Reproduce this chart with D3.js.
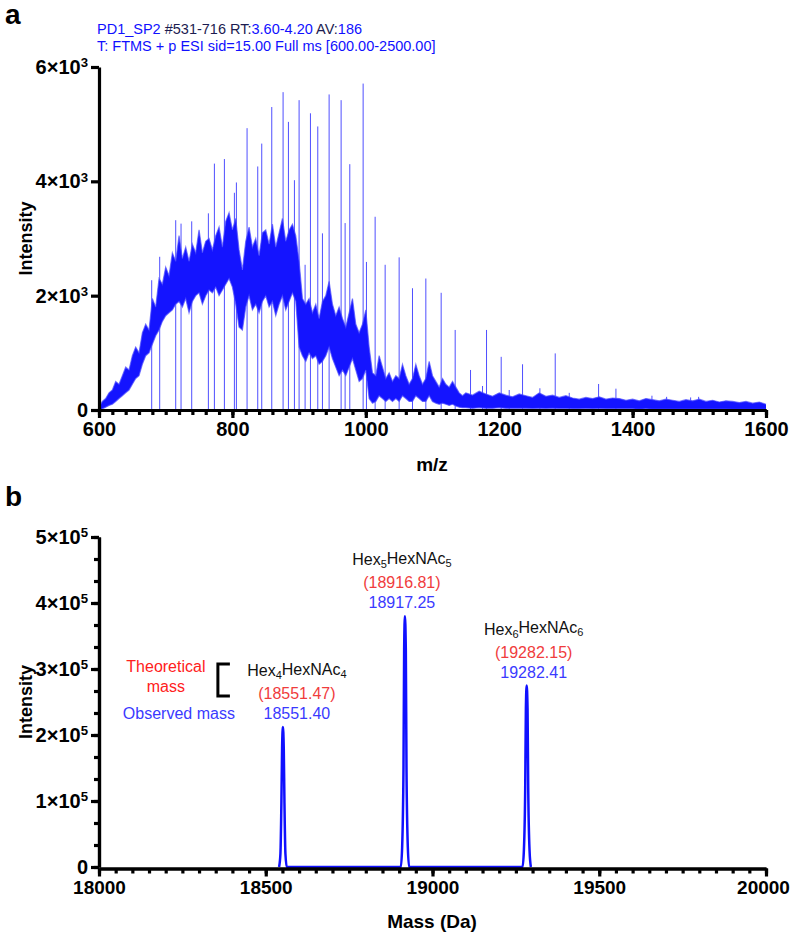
<!DOCTYPE html>
<html>
<head>
<meta charset="utf-8">
<script src="https://cdn.jsdelivr.net/npm/d3@7"></script>
<style>
  body { margin: 0; background: #fff; }
  svg { font-family: "Liberation Sans", Arial, Helvetica, sans-serif; }
</style>
</head>
<body>
<script>
// Panel a : raw ESI spectrum. The noisy hump is kept as a sampled envelope
// (upper / lower edge of the dense trace), the sharp lines as a list of spikes.

const envMz = [
  600,605,610,615,620,625,630,635,640,645,650,655,660,665,670,675,680,685,690,695,
  700,705,710,715,720,725,730,735,740,745,750,755,760,765,770,775,780,785,790,795,
  800,805,810,815,820,825,830,835,840,845,850,855,860,865,870,875,880,885,890,895,
  900,905,910,915,920,925,930,935,940,945,950,955,960,965,970,975,980,985,990,995,
  1000,1005,1010,1015,1020,1025,1030,1035,1040,1045,1050,1055,1060,1065,1070,1075,1080,1085,1090,1095,
  1100,1105,1110,1115,1120,1125,1130,1135,1140,1145,1150,
  1160,1170,1180,1190,1200,1210,1220,1230,1240,1250,1260,1270,1280,1290,1300,
  1310,1320,1330,1340,1350,1360,1370,1380,1390,1400,1410,1420,1430,1440,1450,
  1460,1470,1480,1490,1500,1510,1520,1530,1540,1550,1560,1570,1580,1590,1600
];
const envHi = [
  50,150,200,300,350,500,450,600,750,700,950,1100,1000,1350,1500,1400,1950,1800,2300,2200,
  2500,2350,2750,2600,3050,2650,2850,2600,2900,2750,3150,2750,2950,3000,2800,3050,3200,2850,3300,3450,
  3150,3350,2800,2450,2950,3200,2850,3000,2700,3100,3150,2900,3250,2850,3100,3350,2950,3150,3250,3050,
  2600,1950,1850,1950,1700,1850,1600,1900,2000,2250,1850,1650,1800,1600,1450,1700,1950,1500,1350,1500,
  1750,1100,650,600,950,750,550,650,500,600,550,800,600,450,550,800,600,450,550,850,
  600,500,400,550,450,400,500,400,300,250,300,
  260,330,280,240,300,260,230,280,250,220,300,240,260,220,250,
  210,190,220,200,230,190,210,200,170,190,160,200,180,160,190,
  170,150,180,160,190,150,170,140,160,150,130,150,120,140,100
];
const envLo = [
  0,20,50,80,100,150,200,250,300,350,450,550,600,800,950,1000,1150,1300,1400,1550,
  1650,1700,1750,1850,1900,1800,1950,1700,1900,2000,2050,1850,2000,2100,2050,2150,2000,2100,2200,2300,
  2150,1850,1450,1400,1800,2000,1750,1850,1700,1900,2000,1800,1900,1650,1850,2000,1750,1900,2050,1900,
  1100,950,850,1000,900,950,800,850,950,1100,900,750,600,700,600,750,900,700,500,550,
  700,200,120,150,250,200,150,200,150,200,150,250,200,150,150,250,200,150,150,250,
  150,120,100,120,100,80,100,70,50,40,40,
  30,40,30,30,40,30,30,30,30,25,30,25,30,25,25,
  20,20,25,20,25,20,20,20,20,20,15,20,15,15,15,
  15,15,15,15,15,15,15,15,15,10,10,10,10,10,10
];

const spikeMz = [
  679,691,715,723,739,764,773,788,803,806,822,838,844,859,876,884,893,900,909,917,
  928,935,945,963,969,976,996,1001,1014,1029,1050,1070,1090,1113,1134,1157,1175,1181,1203,1215,
  1235,1261,1284,1305,1349,1375,1429,1451,1487,1499
];
const spikeInt = [
  2270,2680,3320,3260,3300,3440,4310,4390,3800,3980,4930,4260,4660,5300,5560,5040,4020,5420,2540,5190,
  4960,3090,5520,5420,3270,4300,5710,2590,3380,2540,2670,2130,2300,2050,1400,700,420,1400,930,350,
  800,380,990,300,455,373,250,230,220,230
];

const mzTicks = [600, 800, 1000, 1200, 1400, 1600];
const intTicksA = [0, 2000, 4000, 6000];

// Panel b : deconvoluted spectrum
const massDa = [
  18540,18544,18547,18549,18551.4,18554,18556,18559,18563,
  18905,18909,18913,18915,18917.25,18920,18922,18926,18930,
  19270,19274,19278,19280,19282.41,19285,19287,19291,19295
];
const massInt = [
  0,20000,100000,180000,212000,180000,100000,20000,0,
  0,30000,150000,330000,380000,330000,150000,30000,0,
  0,25000,120000,240000,275000,240000,120000,25000,0
];
const glycoforms = [
  { hex: 4, hexnac: 4, theo: "18551.47", obs: "18551.40", mass: 18551.40, top: 212000 },
  { hex: 5, hexnac: 5, theo: "18916.81", obs: "18917.25", mass: 18917.25, top: 380000 },
  { hex: 6, hexnac: 6, theo: "19282.15", obs: "19282.41", mass: 19282.41, top: 275000 }
];
const massTicks = [18000, 18500, 19000, 19500, 20000];
const intTicksB = [0, 100000, 200000, 300000, 400000, 500000];

const width = 790;
const height = 938;
const blue = "#1010ff";

const svg = d3.select("body")
    .append("svg")
    .attr("width", width)
    .attr("height", height);

////////////////////////////////////////////////////////////////////////////////
// helpers

// "6×10³" style labels
function sciLabel(sel, expo) {
  sel.each(function (d) {
    let t = d3.select(this).text("");
    if (d === 0) { t.text("0"); return; }
    t.append("tspan").text(Math.round(d / Math.pow(10, expo)) + "×10");
    t.append("tspan").attr("dy", "-0.5em").attr("font-size", "0.66em").text(expo);
  });
}

function thick(g, size) {
  g.attr("font-family", null);
  g.selectAll("path, line").attr("stroke-width", 3.2);
  g.selectAll("text").attr("font-size", size).attr("font-weight", "bold");
}

function yTitle(cy) {
  svg.append("text")
    .attr("transform", "translate(32," + cy + ") rotate(-90)")
    .attr("text-anchor", "middle")
    .attr("font-size", "18px")
    .attr("font-weight", "bold")
    .text("Intensity");
}

const xA = d3.scaleLinear().domain([600, 1600]).range([99, 766]);
const yA = d3.scaleLinear().domain([0, 6000]).range([410, 67]);
const xB = d3.scaleLinear().domain([18000, 20000]).range([99, 766]);
const yB = d3.scaleLinear().domain([0, 500000]).range([867, 537]);

////////////////////////////////////////////////////////////////////////////////
// Panel a : texts and data

svg.append("text").attr("x", 5).attr("y", 24)
   .attr("font-size", "28px").attr("font-weight", "bold").text("a");

let head = svg.append("text").attr("x", 97).attr("y", 34).attr("font-size", "14.5px");
[["PD1_SP2", blue], [" #531-716", "#1c1c50"], [" RT:", "#1c1c50"], ["3.60-4.20", blue],
 [" AV:", "#1c1c50"], ["186", blue]].forEach(function (p) {
  head.append("tspan").attr("fill", p[1]).text(p[0]);
});
svg.append("text").attr("x", 97).attr("y", 51).attr("font-size", "14.5px")
   .attr("fill", blue).text("T: FTMS + p ESI sid=15.00 Full ms [600.00-2500.00]");

let plotA = svg.append("g");
let envData = envMz.map(function (m, i) { return { mz: m, hi: envHi[i], lo: envLo[i] }; });

plotA.selectAll(".spike")
    .data(spikeMz)
    .enter()
    .append("line")
    .attr("class", "spike")
    .attr("x1", d => xA(d)).attr("x2", d => xA(d))
    .attr("y1", yA(0))
    .attr("y2", (d, i) => yA(spikeInt[i]))
    .attr("stroke", "#3030ff")
    .attr("stroke-width", 1)
    .attr("stroke-opacity", 0.85);

plotA.append("path")
    .datum(envData)
    .attr("fill", "#1414ff")
    .attr("d", d3.area().x(d => xA(d.mz)).y0(d => yA(d.lo)).y1(d => yA(d.hi)));

// soft edges of the dense trace
["hi", "lo"].forEach(function (k) {
  plotA.append("path")
      .datum(envData)
      .attr("fill", "none")
      .attr("stroke", "#4b4bff")
      .attr("stroke-width", 1.2)
      .attr("stroke-opacity", 0.7)
      .attr("d", d3.line().x(d => xA(d.mz)).y(d => yA(d[k])));
});

svg.append("text").attr("x", 432).attr("y", 471)
   .attr("text-anchor", "middle").attr("font-size", "19px").attr("font-weight", "bold").text("m/z");
yTitle((yA(0) + yA(6000)) / 2);

////////////////////////////////////////////////////////////////////////////////
// Panel b : texts and data

svg.append("text").attr("x", 5).attr("y", 506)
   .attr("font-size", "28px").attr("font-weight", "bold").text("b");

svg.append("path")
    .datum(massDa.map((m, i) => [m, massInt[i]]))
    .attr("fill", "none")
    .attr("stroke", blue)
    .attr("stroke-width", 2.5)
    .attr("d", d3.line().x(d => xB(d[0])).y(d => yB(d[1])).curve(d3.curveMonotoneX));

svg.append("text").attr("x", 432).attr("y", 928)
   .attr("text-anchor", "middle").attr("font-size", "19px").attr("font-weight", "bold").text("Mass (Da)");
yTitle((yB(0) + yB(500000)) / 2);

const labelDx = [14, -3, 7];
const red = "#f03c3c";
const obsBlue = "#3a3aff";

glycoforms.forEach(function (g, i) {
  let cx = xB(g.mass) + labelDx[i];
  let top = yB(g.top);
  let name = svg.append("text").attr("x", cx).attr("y", top - 51)
      .attr("text-anchor", "middle").attr("font-size", "16px").attr("fill", "#111");
  name.append("tspan").text("Hex");
  name.append("tspan").attr("dy", "0.28em").attr("font-size", "11px").text(g.hex);
  name.append("tspan").attr("dy", "-0.28em").text("HexNAc");
  name.append("tspan").attr("dy", "0.28em").attr("font-size", "11px").text(g.hexnac);
  svg.append("text").attr("x", cx).attr("y", top - 28)
      .attr("text-anchor", "middle").attr("font-size", "16px").attr("fill", red)
      .text("(" + g.theo + ")");
  svg.append("text").attr("x", cx).attr("y", top - 8)
      .attr("text-anchor", "middle").attr("font-size", "16px").attr("fill", obsBlue)
      .text(g.obs);
});

// legend for the two mass rows, next to the first peak
let p0 = yB(glycoforms[0].top);
let lx = xB(glycoforms[0].mass);
svg.append("text").attr("x", lx - 117).attr("y", p0 - 55)
   .attr("text-anchor", "middle").attr("font-size", "16px").attr("fill", "#ff2020").text("Theoretical");
svg.append("text").attr("x", lx - 117).attr("y", p0 - 35)
   .attr("text-anchor", "middle").attr("font-size", "16px").attr("fill", "#ff2020").text("mass");
svg.append("text").attr("x", lx - 104).attr("y", p0 - 8)
   .attr("text-anchor", "middle").attr("font-size", "16px").attr("fill", obsBlue).text("Observed mass");
svg.append("path")
    .attr("d", "M" + (lx - 53) + "," + (p0 - 63) + "H" + (lx - 65) + "V" + (p0 - 31) + "H" + (lx - 53))
    .attr("fill", "none")
    .attr("stroke", "#000")
    .attr("stroke-width", 3);

////////////////////////////////////////////////////////////////////////////////
// Axes, drawn last so they sit on top

let gxA = svg.append("g").attr("transform", "translate(0," + yA(0) + ")");
gxA.append("g").call(d3.axisBottom(xA).tickValues(d3.range(600, 1601, 20)).tickSize(5).tickFormat(() => "").tickSizeOuter(0));
gxA.append("g").call(d3.axisBottom(xA).tickValues(mzTicks).tickSize(8).tickPadding(4)
    .tickFormat(d3.format("d")).tickSizeOuter(0));
thick(gxA, "20px");

let gyA = svg.append("g").attr("transform", "translate(" + xA(600) + ",0)");
gyA.call(d3.axisLeft(yA).tickValues(intTicksA).tickSize(8).tickPadding(3).tickSizeOuter(0));
thick(gyA, "20px");
gyA.selectAll("text").call(sciLabel, 3);

let gxB = svg.append("g").attr("transform", "translate(0," + (yB(0) + 1.5) + ")");
gxB.append("g").call(d3.axisBottom(xB).tickValues(d3.range(18000, 20001, 50)).tickSize(5).tickFormat(() => "").tickSizeOuter(0));
gxB.append("g").call(d3.axisBottom(xB).tickValues(massTicks).tickSize(8).tickPadding(4)
    .tickFormat(d3.format("d")).tickSizeOuter(0));
thick(gxB, "19px");
gxB.selectAll("text").filter(d => d === 20000).attr("dx", "-3");

let gyB = svg.append("g").attr("transform", "translate(" + xB(18000) + ",0)");
gyB.append("g").call(d3.axisLeft(yB).tickValues(d3.range(0, 500001, 100000 / 3)).tickSize(5).tickFormat(() => "").tickSizeOuter(0));
let gyBmajor = gyB.append("g").call(d3.axisLeft(yB).tickValues(intTicksB).tickSize(8).tickPadding(3).tickSizeOuter(0));
thick(gyB, "20px");
gyBmajor.selectAll("text").call(sciLabel, 5);
</script>
</body>
</html>
